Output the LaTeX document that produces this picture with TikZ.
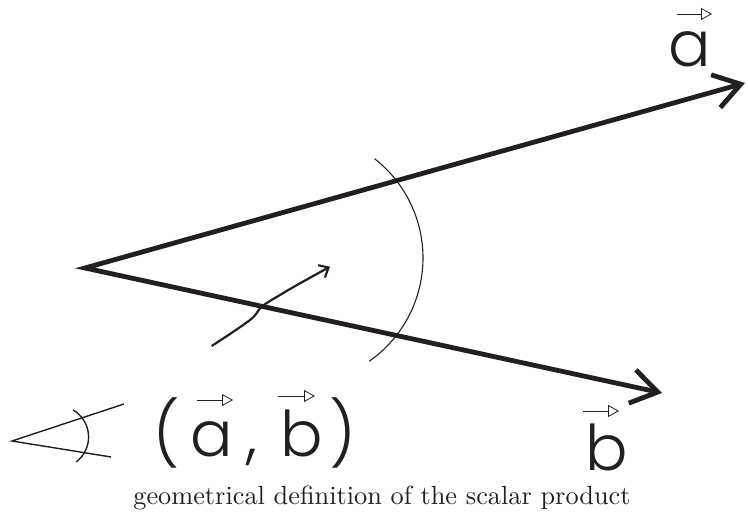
\documentclass[tikz,border=0pt]{standalone}
\usepackage{fontspec}
\usepackage{tikz}
\usetikzlibrary{arrows.meta}
\newfontfamily\geofont{Poppins Light}
\newfontfamily\capfont{lmroman10-regular.otf}
\definecolor{tinte}{HTML}{231F20}
\tikzset{
  vec/.style={{Straight Barb[length=26pt,width=34pt]}-{Straight Barb[length=26pt,width=34pt]},tinte,line width=4.8pt},
  hand/.style={-{Straight Barb[length=8pt,width=14pt]},tinte,line width=2.2pt},
  bog/.style={tinte,line width=1.1pt},
  sym/.style={tinte,line width=1.4pt},
  over/.style={-{Triangle[open,length=11pt,width=12pt]},tinte,line width=0.8pt},
  buchst/.style={inner sep=0pt,anchor=base,tinte,font=\geofont\fontsize{63}{70}\selectfont},
}
\begin{document}
\begin{tikzpicture}[x=10pt,y=10pt]
  \useasboundingbox (0,0) rectangle (74.8,51.9);
  \coordinate (o) at (8.5,25.1);
  \coordinate (a) at (74.5,43.6);
  \coordinate (b) at (66.2,12.6);
  \draw[vec] (a)--(o)--(b);
  \draw[bog] (29.7,26.1) ++(52:12.6) arc[start angle=52,end angle=-55,radius=12.6];
  \draw[hand] plot[smooth,tension=0.6] coordinates {(21.17,17.3) (25.0,19.9) (26.17,21.23) (28.0,22.4) (30.0,23.57) (33.0,25.23)};
  % Beschriftung
  \node[buchst] (la) at (69.0,45.2) {a};
  \node[buchst] (lb) at (60.7,4.8) {b};
  \draw[over] (67.7,50.5)--(71.2,50.5);
  \draw[over] (58.3,10.8)--(61.9,10.8);
  % Winkelsymbol
  \draw[sym] (12.4,11.5)--(1.2,7.8)--(11.1,6.2);
  \draw[sym] (5.74,8.2) ++(60:3.12) arc[start angle=60,end angle=-53,radius=3.12];
  \node[buchst] (kl) at (16.7,6.2) {(};
  \node[buchst] (ka) at (21.15,6.2) {a};
  \node[buchst] (km) at (25.2,6.2) {,};
  \node[buchst] (kb) at (30.15,6.2) {b};
  \node[buchst] (kr) at (34.3,6.2) {)};
  \draw[over] (19.7,11.9)--(23.3,11.9);
  \draw[over] (27.8,12.3)--(31.5,12.3);
  \node[anchor=base,inner sep=0pt,tinte,font=\capfont\fontsize{26.3}{30}\selectfont] (cap) at (38.2,1.4) {geometrical definition of the scalar product};
\end{tikzpicture}
\end{document}
